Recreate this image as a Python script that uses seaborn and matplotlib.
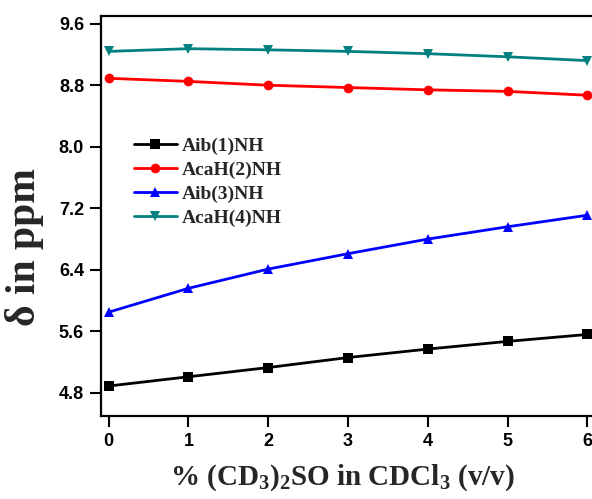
import numpy as np
import pandas as pd
import matplotlib
matplotlib.use("Agg")
import matplotlib.pyplot as plt
import seaborn as sns

# DMSO titration: NH chemical shifts vs. % (CD3)2SO in CDCl3
dmso_pct = [0, 1, 2, 3, 4, 5, 6]
aib1_nh = [4.89, 5.01, 5.13, 5.26, 5.37, 5.47, 5.56]
acah2_nh = [8.89, 8.85, 8.80, 8.77, 8.74, 8.72, 8.67]
aib3_nh = [5.85, 6.16, 6.41, 6.61, 6.80, 6.96, 7.11]
acah4_nh = [9.24, 9.275, 9.26, 9.24, 9.21, 9.17, 9.12]

series_names = ["Aib(1)NH", "AcaH(2)NH", "Aib(3)NH", "AcaH(4)NH"]
series_values = [aib1_nh, acah2_nh, aib3_nh, acah4_nh]
series_colors = ["#000000", "#FF0000", "#0000FF", "#008080"]
series_markers = ["s", "o", "^", "v"]

x_ticks = [0, 1, 2, 3, 4, 5, 6]
y_ticks = [4.8, 5.6, 6.4, 7.2, 8.0, 8.8, 9.6]

df = pd.DataFrame({
    "pct": np.tile(dmso_pct, len(series_names)),
    "shift": np.concatenate(series_values),
    "residue": np.repeat(series_names, len(dmso_pct)),
})

sns.set_theme(style="white")
plt.rcParams["font.family"] = ["Liberation Sans", "DejaVu Sans"]
plt.rcParams["mathtext.fontset"] = "custom"
plt.rcParams["mathtext.rm"] = "Liberation Serif:bold"
plt.rcParams["mathtext.it"] = "Liberation Serif:bold"
plt.rcParams["mathtext.bf"] = "Liberation Serif:bold"

W, H = 592, 499
fig = plt.figure(figsize=(W / 100, H / 100), dpi=100)
ax = fig.add_axes([100.7 / W, 1 - 416 / H, 494.6 / W, 400 / H])

sns.lineplot(
    data=df, x="pct", y="shift", hue="residue", style="residue",
    hue_order=series_names, style_order=series_names,
    palette=dict(zip(series_names, series_colors)),
    markers=dict(zip(series_names, series_markers)),
    dashes=False, markersize=7, linewidth=2.0, markeredgewidth=0,
    ax=ax,
)

ax.set_xlim(-0.1, 6.1)
ax.set_ylim(4.5, 9.7)
ax.set_xticks(x_ticks)
ax.set_yticks(y_ticks)
ax.set_xticklabels([str(v) for v in x_ticks])
ax.set_yticklabels([f"{v:.1f}" for v in y_ticks])
ax.tick_params(direction="out", length=8, width=1.5, labelsize=13,
               colors="black", bottom=True, left=True, pad=4)
for lab in ax.get_xticklabels() + ax.get_yticklabels():
    lab.set_fontweight("bold")
for side in ["left", "bottom", "top"]:
    ax.spines[side].set_color("black")
    ax.spines[side].set_linewidth(1.6)
ax.spines["right"].set_visible(False)

ax.set_xlabel("")
ax.set_ylabel("")
fig.text(25 / W, 1 - 247 / H, "δ in ppm", rotation=90, ha="center", va="center",
         fontsize=30, fontweight="bold", family="Liberation Serif")
fig.text(342 / W, 1 - 478 / H, r"% (CD$_3$)$_2$SO in CDCl$_3$ (v/v)",
         ha="center", va="center", fontsize=21, fontweight="bold",
         family="Liberation Serif")

leg = ax.legend(loc="upper left", bbox_to_anchor=(0.067, 0.6975), frameon=False,
                borderpad=0, borderaxespad=0, handlelength=2.2, handletextpad=0.28,
                labelspacing=0.33, prop={"family": "Liberation Serif", "weight": "bold", "size": 14})

fig.savefig("out.png", dpi=100, facecolor="white")
